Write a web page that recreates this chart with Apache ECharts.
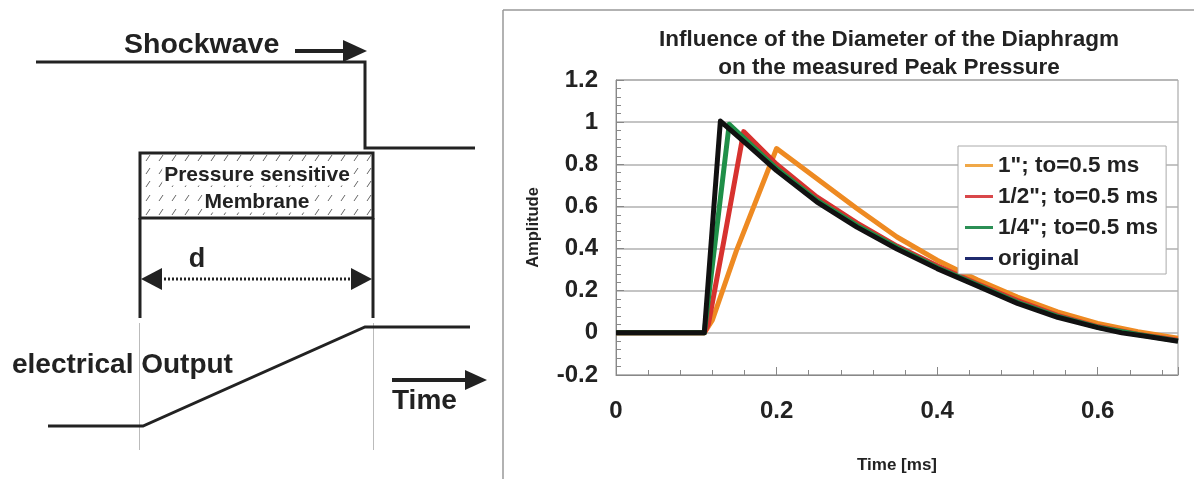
<!DOCTYPE html>
<html><head><meta charset="utf-8">
<script src="https://cdn.jsdelivr.net/npm/echarts@6/dist/echarts.min.js"></script>
<style>html,body{margin:0;padding:0;background:#fff}#c{width:1194px;height:479px}</style>
</head><body><div id="c"></div>
<script>
// ---- data ----
const seriesNames = ['1"; to=0.5 ms', '1/2"; to=0.5 ms', '1/4"; to=0.5 ms', 'original'];
const tOrange = [0, 0.11, 0.12, 0.15, 0.2, 0.25, 0.3, 0.35, 0.4, 0.45, 0.5, 0.55, 0.6, 0.65, 0.7];
const vOrange = [0, 0, 0.06, 0.39, 0.875, 0.732, 0.59, 0.455, 0.345, 0.252, 0.17, 0.1, 0.045, 0.005, -0.025];
const tRed = [0, 0.11, 0.115, 0.135, 0.159, 0.2, 0.25, 0.3, 0.35, 0.4, 0.45, 0.5, 0.55, 0.6, 0.65, 0.7];
const vRed = [0, 0, 0.04, 0.45, 0.955, 0.8, 0.645, 0.522, 0.412, 0.318, 0.233, 0.153, 0.083, 0.03, -0.006, -0.035];
const tGreen = [0, 0.11, 0.141, 0.2, 0.25, 0.3, 0.35, 0.4, 0.45, 0.5, 0.55, 0.6, 0.65, 0.7];
const vGreen = [0, 0, 0.99, 0.78, 0.63, 0.51, 0.405, 0.31, 0.228, 0.145, 0.078, 0.027, -0.008, -0.038];
const tOrig = [0, 0.11, 0.13, 0.16, 0.2, 0.25, 0.3, 0.35, 0.4, 0.45, 0.5, 0.55, 0.6, 0.63, 0.66, 0.7];
const vOrig = [0, 0, 1.005, 0.905, 0.77, 0.622, 0.502, 0.398, 0.305, 0.223, 0.14, 0.074, 0.025, 0.0, -0.016, -0.04];
const seriesColors = ['#ee8a22', '#d7322f', '#1f8f48', '#111111'];
const legendColors = ['#f0a848', '#d9474a', '#2b8f55', '#1f2a6e'];
const titleLines = ['Influence of the Diameter of the Diaphragm', 'on the measured Peak Pressure'];

const zip = (t, v) => t.map((x, i) => [x, v[i]]);
const seriesData = [zip(tOrange, vOrange), zip(tRed, vRed), zip(tGreen, vGreen), zip(tOrig, vOrig)];

const FONT = "'Liberation Sans', Arial, sans-serif";
const ink = '#222';

// ---- left diagram graphics ----
const g = [];
const line = (x1, y1, x2, y2, w, color, dash) => g.push({type:'line', shape:{x1,y1,x2,y2}, style:{stroke:color||ink, lineWidth:w||3, lineDash:dash||null}, silent:true});
const poly = (pts, w) => g.push({type:'polyline', shape:{points:pts}, style:{stroke:ink, lineWidth:w||3, fill:null}, silent:true});
const tri = (pts) => g.push({type:'polygon', shape:{points:pts}, style:{fill:ink}, silent:true});
const text = (x, y, s, size, align, bg) => g.push({type:'text', x, y, style:{text:s, font:'bold '+size+'px '+FONT, fill:ink, align:align||'left', verticalAlign:'middle', backgroundColor:bg||null, padding:bg?[0,2]:null}, silent:true, z:10});

// frame of right panel
line(503, 10, 1194, 10, 1.5, '#999');
line(503, 10, 503, 479, 1.5, '#999');

// Shockwave
text(124, 45, 'Shockwave', 28.5);
line(295, 51, 346, 51, 4);
tri([[343, 40], [367, 51], [343, 62]]);
poly([[36, 62], [365, 62], [365, 148], [475, 148]], 3);

// membrane hatch
for (let yy of [158, 171, 184, 198, 212]) {
  for (let xx = 146; xx < 368; xx += 13) {
    line(xx, yy + 3, xx + 4, yy - 3, 1, '#666');
  }
}
g.push({type:'rect', shape:{x:140, y:153, width:233, height:65}, style:{stroke:ink, lineWidth:3, fill:null}, silent:true, z:5});
text(257, 175, 'Pressure sensitive', 21, 'center', '#fff');
text(257, 202, 'Membrane', 21, 'center', '#fff');
line(140, 218, 140, 318, 3);
line(373, 218, 373, 318, 3);
// d arrow
text(197, 260, 'd', 27, 'center');
line(160, 279, 352, 279, 3, ink, [2, 2]);
tri([[141, 279], [162, 268], [162, 290]]);
tri([[372, 279], [351, 268], [351, 290]]);
// thin gray guides
line(139.5, 323, 139.5, 450, 1, '#bbb');
line(373.5, 323, 373.5, 450, 1, '#bbb');
// output
poly([[48, 426], [143, 426], [365, 327], [470, 327]], 3);
text(12, 365, 'electrical Output', 28);
// time arrow
line(392, 380, 467, 380, 4);
tri([[465, 370], [487, 380], [465, 390]]);
text(392, 401, 'Time', 28);

// ---- chart ----
const chart = echarts.init(document.getElementById('c'), null, {renderer:'canvas'});
chart.setOption({
  animation: false,
  textStyle: {fontFamily: FONT},
  title: {
    text: titleLines.join('\n'), left: 884, top: 21, textAlign: 'center',
    textStyle: {fontFamily: FONT, fontSize: 22.5, fontWeight: 'bold', color: ink, lineHeight: 28}
  },
  grid: {left: 616, top: 80, width: 562, height: 295.5, show: true, borderColor: '#999', borderWidth: 1, backgroundColor: 'transparent'},
  legend: {
    orient: 'vertical', left: 958, top: 146, icon: 'rect', itemWidth: 28, itemHeight: 3, itemGap: 8,
    padding: [8, 8, 4, 7], borderColor: '#aaa', borderWidth: 1, backgroundColor: '#fff',
    textStyle: {fontFamily: FONT, fontSize: 22.5, fontWeight: 'bold', color: ink, lineHeight: 22},
    data: seriesNames.map((n, i) => ({name: n, itemStyle: {color: legendColors[i]}}))
  },
  xAxis: {
    type: 'value', min: 0, max: 0.7, interval: 0.2,
    name: 'Time [ms]', nameLocation: 'middle', nameGap: 82,
    nameTextStyle: {fontFamily: FONT, fontSize: 17, fontWeight: 'bold', color: ink},
    axisLine: {show: true, onZero: false, lineStyle: {color: '#888', width: 1}},
    axisTick: {show: true, inside: true, length: 8, lineStyle: {color: '#888'}},
    minorTick: {show: true, splitNumber: 5, length: 5, lineStyle: {color: '#888'}},
    splitLine: {show: false},
    axisLabel: {fontFamily: FONT, fontSize: 24, fontWeight: 'bold', color: ink, margin: 24, showMaxLabel: false}
  },
  yAxis: {
    type: 'value', min: -0.2, max: 1.2, interval: 0.2,
    name: 'Amplitude', nameLocation: 'middle', nameGap: 74, nameRotate: 90,
    nameTextStyle: {fontFamily: FONT, fontSize: 16.5, fontWeight: 'bold', color: ink},
    axisLine: {show: true, onZero: false, lineStyle: {color: '#888', width: 1}},
    axisTick: {show: true, inside: true, length: 8, lineStyle: {color: '#888'}},
    minorTick: {show: true, splitNumber: 5, length: 5, lineStyle: {color: '#888'}},
    splitLine: {show: true, lineStyle: {color: '#b0b0b0', width: 1.5}},
    axisLabel: {fontFamily: FONT, fontSize: 24, fontWeight: 'bold', color: ink, margin: 18}
  },
  series: seriesNames.map((n, i) => ({
    name: n, type: 'line', data: seriesData[i], showSymbol: false, symbol: 'none',
    lineStyle: {width: 5, color: seriesColors[i], join: 'round'}, itemStyle: {color: seriesColors[i]},
    z: 2 + i
  })),
  graphic: g
});
</script></body></html>
